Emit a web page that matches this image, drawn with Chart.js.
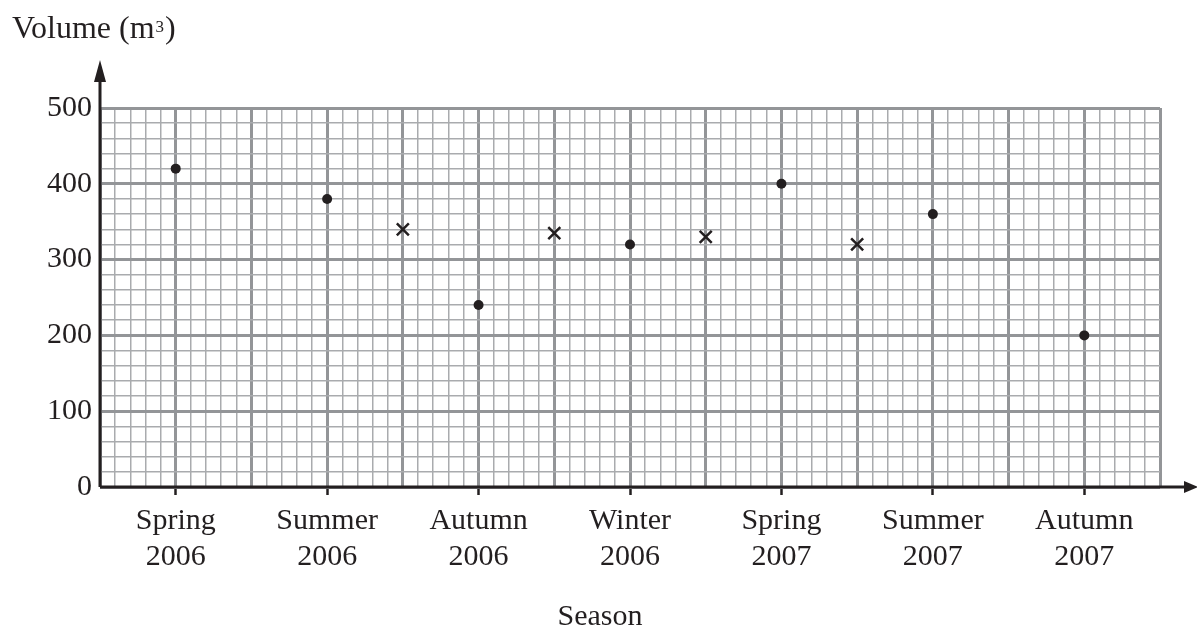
<!DOCTYPE html>
<html>
<head>
<meta charset="utf-8">
<script src="https://cdn.jsdelivr.net/npm/chart.js@4/dist/chart.umd.min.js"></script>
<style>
  html, body { margin: 0; padding: 0; background: #fff; }
  #wrap { width: 1197px; height: 627px; }
</style>
</head>
<body>
<div id="wrap"><canvas id="chart"></canvas></div>
<script>
// Data
const seasons = ['Spring', 'Summer', 'Autumn', 'Winter', 'Spring', 'Summer', 'Autumn'];
const years = ['2006', '2006', '2006', '2006', '2007', '2007', '2007'];
const volumes = [420, 380, 240, 320, 400, 360, 200];
const movingAverages = [340, 335, 330, 320];
const yTicks = [0, 100, 200, 300, 400, 500];

const FONT = '"Liberation Serif", "Times New Roman", serif';
const INK = '#231f20';
const MAJOR = '#939598';
const MINOR = '#a9abae';

// season i sits at x = 2i + 1, moving average j between seasons j+1 and j+2
const seasonPoints = volumes.map((v, i) => ({ x: 2 * i + 1, y: v }));
const avgPoints = movingAverages.map((v, j) => ({ x: 2 * j + 4, y: v }));

const isInt = v => Math.abs(v - Math.round(v)) < 1e-6;
const seasonIndex = v => {
    if (!isInt(v)) return -1;
    const r = Math.round(v);
    return r % 2 === 1 ? (r - 1) / 2 : -1;
};

// Axis arrows and titles
const arrowPlugin = {
    id: 'arrows',
    afterDraw(chart) {
        const { ctx, chartArea } = chart;
        const left = chartArea.left, bottom = chartArea.bottom;
        ctx.save();
        ctx.strokeStyle = INK;
        ctx.fillStyle = INK;
        ctx.lineWidth = 3;
        ctx.beginPath();
        ctx.moveTo(left, bottom);
        ctx.lineTo(left, 75);
        ctx.moveTo(left, bottom);
        ctx.lineTo(1188, bottom);
        ctx.stroke();
        // up arrow
        ctx.beginPath();
        ctx.moveTo(left, 60);
        ctx.lineTo(left - 6, 82);
        ctx.lineTo(left + 6, 82);
        ctx.closePath();
        ctx.fill();
        // right arrow
        ctx.beginPath();
        ctx.moveTo(1198, bottom);
        ctx.lineTo(1184, bottom - 6);
        ctx.lineTo(1184, bottom + 6);
        ctx.closePath();
        ctx.fill();

        // y title with small superscript
        ctx.textAlign = 'left';
        ctx.textBaseline = 'alphabetic';
        ctx.font = '32px ' + FONT;
        let x = 12;
        const base = 'Volume (m';
        ctx.fillText(base, x, 38);
        x += ctx.measureText(base).width + 1;
        ctx.font = '17px ' + FONT;
        ctx.fillText('3', x, 32);
        x += ctx.measureText('3').width + 1;
        ctx.font = '32px ' + FONT;
        ctx.fillText(')', x, 38);

        ctx.font = '30px ' + FONT;
        ctx.textAlign = 'center';
        ctx.fillText('Season', 600, 625);
        ctx.restore();
    }
};

new Chart(document.getElementById('chart'), {
    type: 'scatter',
    data: {
        datasets: [
            {
                label: 'Volume',
                data: seasonPoints,
                pointStyle: 'circle',
                pointRadius: 5,
                backgroundColor: INK,
                borderColor: INK,
                borderWidth: 0
            },
            {
                label: 'Moving average',
                data: avgPoints,
                pointStyle: 'crossRot',
                pointRadius: 8.5,
                borderColor: INK,
                borderWidth: 2.5
            }
        ]
    },
    options: {
        responsive: true,
        maintainAspectRatio: false,
        animation: false,
        events: [],
        layout: { padding: { top: 108, right: 37, left: 0, bottom: 0 } },
        plugins: { legend: { display: false }, tooltip: { enabled: false } },
        scales: {
            x: {
                type: 'linear',
                min: 0,
                max: 14,
                afterFit: s => { s.height = 140; },
                border: { display: false },
                grid: {
                    color: c => isInt(c.tick.value) ? MAJOR : MINOR,
                    lineWidth: c => isInt(c.tick.value) ? 3 : 1.5,
                    drawTicks: true,
                    tickLength: 8,
                    tickColor: c => seasonIndex(c.tick.value) >= 0 ? INK : 'rgba(0,0,0,0)',
                    tickWidth: 2.5
                },
                ticks: {
                    stepSize: 0.2,
                    autoSkip: false,
                    maxRotation: 0,
                    padding: 9,
                    color: INK,
                    font: { family: FONT, size: 30, lineHeight: 1.17 },
                    callback: v => {
                        const i = seasonIndex(v);
                        return i >= 0 ? [seasons[i], years[i]] : '';
                    }
                }
            },
            y: {
                min: 0,
                max: 500,
                afterFit: s => { s.width = 100; },
                border: { display: false },
                grid: {
                    color: c => c.tick.value % 100 === 0 ? MAJOR : MINOR,
                    lineWidth: c => c.tick.value % 100 === 0 ? 3 : 1.5,
                    drawTicks: false
                },
                ticks: {
                    stepSize: 20,
                    autoSkip: false,
                    padding: 8,
                    color: INK,
                    font: { family: FONT, size: 30 },
                    callback: v => yTicks.includes(v) ? String(v) : ''
                }
            }
        }
    },
    plugins: [arrowPlugin]
});
</script>
</body>
</html>
